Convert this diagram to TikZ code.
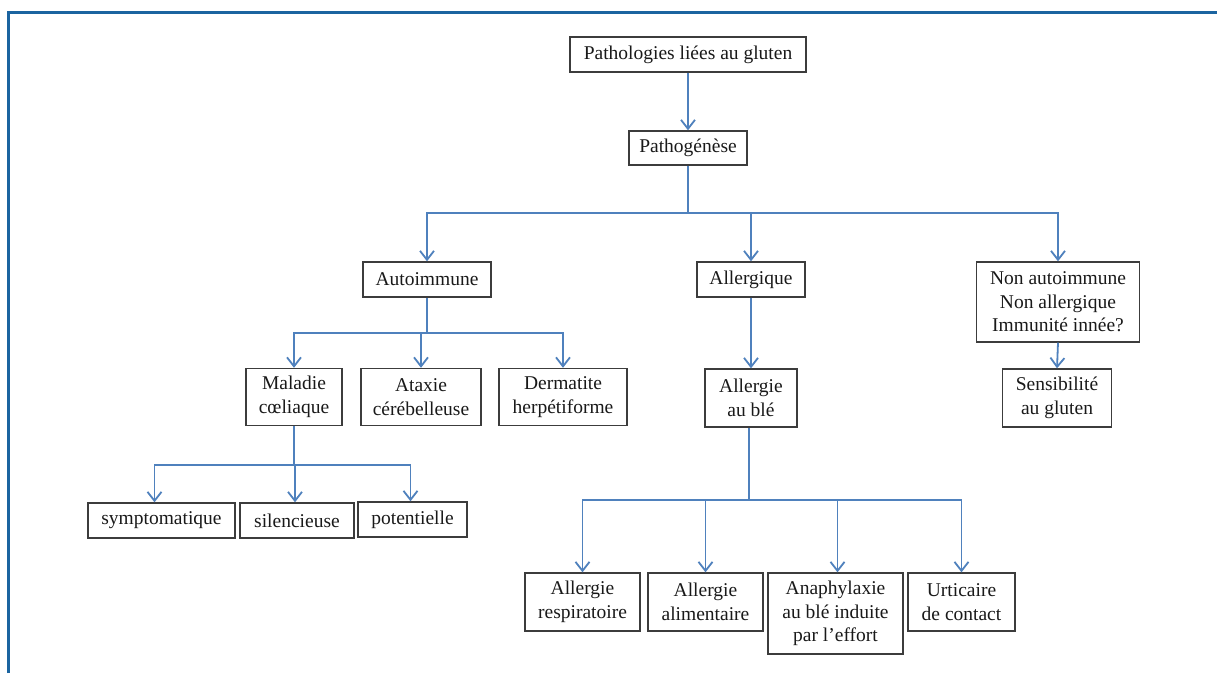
\documentclass[tikz,border=0pt]{standalone}
\usepackage{fontspec}
\setmainfont{Liberation Serif}
\usetikzlibrary{arrows.meta}
\definecolor{linkblue}{RGB}{79,129,189}
\definecolor{frameblue}{RGB}{27,100,160}
\definecolor{boxgray}{RGB}{60,60,60}
\definecolor{txt}{RGB}{25,25,25}
\begin{document}
\begin{tikzpicture}[x=1pt,y=-1pt,
  box/.style={draw=boxgray,line width=1.4pt,fill=white,inner sep=0pt,align=center,text=txt,
    font=\fontsize{19.5}{23.5}\selectfont},
  conn/.style={draw=linkblue,line width=1.8pt},
  arr/.style={conn,-{Straight Barb[length=9pt,width=14pt]}}]
\useasboundingbox (0,0) rectangle (1217,673);
\fill[white] (0,0) rectangle (1217,673);
\draw[frameblue,line width=3pt] (8.5,673) -- (8.5,12.5) -- (1217,12.5);

% level 0-1
\node[box,minimum width=236,minimum height=35] (top) at (688,54.5) {Pathologies liées au gluten};
\node[box,minimum width=118,minimum height=34] (patho) at (688,148) {Pathogénèse};

% level 2
\node[box,minimum width=128,minimum height=35] (auto) at (427,279.5) {Autoimmune};
\node[box,minimum width=108,minimum height=35] (allerg) at (751,279.5) {Allergique};
\node[box,minimum width=163,minimum height=80] (nonauto) at (1058,302) {Non autoimmune\\Non allergique\\Immunité innée?};

% level 3
\node[box,minimum width=96,minimum height=57] (mal) at (294,397) {Maladie\\cœliaque};
\node[box,minimum width=120,minimum height=57] (atax) at (421,397) {Ataxie\\cérébelleuse};
\node[box,minimum width=128,minimum height=57] (derm) at (563,397) {Dermatite\\herpétiforme};
\node[box,minimum width=92,minimum height=58] (ble) at (751,398) {Allergie\\au blé};
\node[box,minimum width=109,minimum height=58] (sens) at (1057,398) {Sensibilité\\au gluten};

% level 4 left
\node[box,minimum width=147,minimum height=35] (symp) at (161.5,520.5) {symptomatique};
\node[box,minimum width=114,minimum height=35] (sil) at (297,520.5) {silencieuse};
\node[box,minimum width=109,minimum height=35] (pot) at (412.5,519.5) {potentielle};

% level 4 right
\node[box,minimum width=115,minimum height=58] (resp) at (582.5,602) {Allergie\\respiratoire};
\node[box,minimum width=115,minimum height=58] (alim) at (705.5,602) {Allergie\\alimentaire};
\node[box,minimum width=135,minimum height=81] (ana) at (835.5,613.5) {Anaphylaxie\\au blé induite\\par l’effort};
\node[box,minimum width=107,minimum height=58] (urt) at (961.5,602) {Urticaire\\de contact};

% connectors
\draw[arr] (top.south) -- (top.south |- patho.north);
\coordinate (b1) at (688,213);
\draw[conn] (patho.south) -- (b1);
\draw[arr] (b1) -| (auto.north);
\draw[arr] (b1) -| (allerg.north);
\draw[arr] (b1) -| (nonauto.north);

\coordinate (b2) at (427,333);
\draw[conn] (auto.south) -- (b2);
\draw[arr] (b2) -| (mal.north);
\draw[arr] (b2) -| (atax.north);
\draw[arr] (b2) -| (derm.north);

\draw[arr] (allerg.south) -- (ble.north);
\draw[arr] (nonauto.south) -- (sens.north);

\coordinate (b3) at (294,465);
\draw[conn] (mal.south) -- (b3);
\draw[arr] (b3) -| ([xshift=-7pt]symp.north);
\draw[arr] (b3) -| ([xshift=-2pt]sil.north);
\draw[arr] (b3) -| ([xshift=-2pt]pot.north);

\coordinate (b4) at (749,500);
\draw[conn] ([xshift=-2pt]ble.south) -- (b4);
\draw[arr] (b4) -| (resp.north);
\draw[arr] (b4) -| (alim.north);
\draw[arr] (b4) -| ([xshift=2pt]ana.north);
\draw[arr] (b4) -| (urt.north);
\end{tikzpicture}
\end{document}
